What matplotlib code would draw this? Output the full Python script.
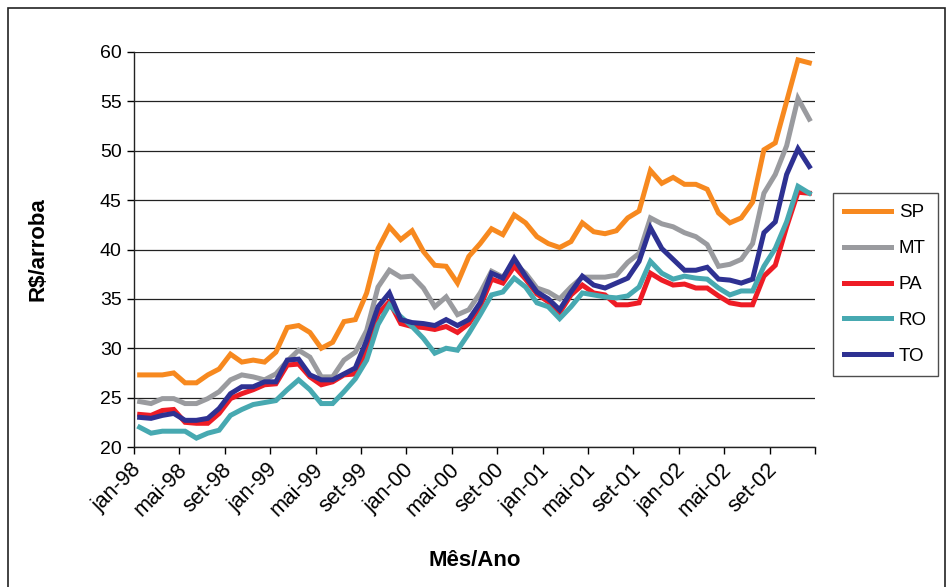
import matplotlib.pyplot as plt
from matplotlib.patches import Rectangle
import matplotlib.transforms as mtransforms
import numpy as np

plt.rcParams['font.family'] = ['Liberation Sans', 'DejaVu Sans']

# precos mensais jan-98 .. dez-02 (R$/arroba)
sp = [27.3, 27.3, 27.3, 27.5, 26.5, 26.5, 27.3, 27.9, 29.4, 28.6, 28.8, 28.6, 29.6, 32.1, 32.3, 31.6, 30.0, 30.6, 32.7, 32.9,
      35.6, 40.1, 42.3, 41.0, 41.9, 39.8, 38.4, 38.3, 36.6, 39.3, 40.6, 42.1, 41.5, 43.5, 42.7, 41.3, 40.6, 40.2, 40.8, 42.7,
      41.8, 41.6, 41.9, 43.2, 43.9, 48.0, 46.7, 47.3, 46.6, 46.6, 46.1, 43.7, 42.7, 43.2, 44.8, 50.1, 50.8, 55.0, 59.2, 58.9]
mt = [24.6, 24.4, 24.9, 24.9, 24.4, 24.4, 24.9, 25.6, 26.8, 27.3, 27.1, 26.8, 27.4, 28.7, 29.8, 29.1, 27.1, 27.1, 28.8, 29.6,
      31.8, 36.2, 37.9, 37.2, 37.3, 36.1, 34.2, 35.2, 33.4, 33.9, 35.6, 37.8, 37.2, 38.6, 37.6, 36.1, 35.7, 35.0, 36.2, 37.2,
      37.2, 37.2, 37.4, 38.7, 39.6, 43.2, 42.6, 42.3, 41.7, 41.3, 40.5, 38.3, 38.5, 39.0, 40.6, 45.7, 47.6, 50.5, 55.3, 53.2]
pa = [23.3, 23.2, 23.7, 23.8, 22.5, 22.4, 22.4, 23.4, 24.9, 25.4, 25.8, 26.3, 26.4, 28.3, 28.4, 27.1, 26.3, 26.6, 27.3, 27.4,
      29.8, 33.5, 34.7, 32.5, 32.2, 32.1, 31.9, 32.2, 31.6, 32.5, 34.2, 37.0, 36.6, 38.3, 37.0, 35.5, 34.7, 33.6, 35.4, 36.4,
      35.6, 35.4, 34.4, 34.4, 34.6, 37.6, 36.9, 36.4, 36.5, 36.1, 36.1, 35.3, 34.6, 34.4, 34.4, 37.3, 38.4, 42.3, 45.8, 45.7]
ro = [22.0, 21.4, 21.6, 21.6, 21.6, 20.9, 21.4, 21.7, 23.2, 23.8, 24.3, 24.5, 24.7, 25.8, 26.8, 25.8, 24.4, 24.4, 25.6, 26.9,
      28.8, 32.4, 34.4, 33.2, 32.2, 31.0, 29.5, 30.0, 29.8, 31.5, 33.4, 35.4, 35.7, 37.1, 36.2, 34.6, 34.2, 33.0, 34.2, 35.6,
      35.4, 35.2, 35.1, 35.3, 36.2, 38.8, 37.6, 37.0, 37.3, 37.1, 37.0, 36.1, 35.4, 35.8, 35.8, 38.3, 40.1, 42.8, 46.4, 45.7]
to = [23.0, 22.9, 23.2, 23.4, 22.7, 22.7, 22.9, 23.9, 25.4, 26.1, 26.1, 26.6, 26.6, 28.8, 28.9, 27.3, 26.8, 26.8, 27.4, 28.0,
      30.8, 34.2, 35.6, 32.9, 32.6, 32.5, 32.3, 32.9, 32.3, 32.9, 34.6, 37.6, 37.1, 39.1, 37.3, 35.7, 35.0, 33.9, 35.7, 37.3,
      36.4, 36.1, 36.6, 37.1, 38.8, 42.2, 40.1, 39.0, 37.9, 37.9, 38.2, 37.0, 36.9, 36.6, 37.0, 41.7, 42.8, 47.6, 50.2, 48.4]

labels = ['jan-98', 'mai-98', 'set-98', 'jan-99', 'mai-99', 'set-99', 'jan-00', 'mai-00',
          'set-00', 'jan-01', 'mai-01', 'set-01', 'jan-02', 'mai-02', 'set-02']

series = [('SP', sp, '#F7891F'), ('MT', mt, '#9A9B9F'), ('PA', pa, '#EE1C25'),
          ('RO', ro, '#47A9B1'), ('TO', to, '#2E3192')]

fig = plt.figure(figsize=(9.5, 5.87), dpi=100)
ax = fig.add_axes([134/950, 1-447/587, 681/950, 395/587])

x = np.arange(len(sp))
for name, vals, c in series:
    ax.plot(x, vals, color=c, lw=3.6, label=name, solid_joinstyle='miter')

ax.set_xlim(-0.5, len(sp) - 0.5)
ax.set_ylim(20, 60)
ax.set_yticks(np.arange(20, 61, 5))
ax.yaxis.grid(True, color='#222222', lw=0.9)
ax.set_axisbelow(True)

ax.set_xticks(np.arange(0, len(sp), 4))
ax.set_xticklabels(labels, rotation=45, ha='right', rotation_mode='anchor')
ax.set_xticks(np.arange(-0.5, len(sp), 4), minor=True)
ax.tick_params(axis='x', which='major', length=0, labelsize=15.5, pad=9)
ax.tick_params(axis='x', which='minor', length=5, width=1, direction='out')
ax.tick_params(axis='y', length=5, width=1, labelsize=14, pad=4)

# rotated labels sit a bit left of the category, like the original
shift = mtransforms.ScaledTranslation(-9/100, 0, fig.dpi_scale_trans)
for t in ax.get_xticklabels():
    t.set_transform(t.get_transform() + shift)

for s in ['top', 'right']:
    ax.spines[s].set_visible(False)
for s in ['left', 'bottom']:
    ax.spines[s].set_color('#222222')
    ax.spines[s].set_linewidth(1)

ax.set_ylabel(r'R\$/arroba', fontsize=16, fontweight='bold')
ax.yaxis.set_label_coords(-0.125, 0.5)
ax.set_xlabel('Mês/Ano', fontsize=16, fontweight='bold')
ax.xaxis.set_label_coords(0.5, -0.262)

leg = fig.legend(loc='upper left', bbox_to_anchor=(833/950, 1-193/587), fontsize=13.5,
                 frameon=True, fancybox=False, edgecolor='#222222', borderaxespad=0,
                 handlelength=2.5, handletextpad=0.4, labelspacing=1.0, borderpad=0.6)
leg.get_frame().set_linewidth(1)

fig.patches.append(Rectangle((8/950, -0.05), 937/950, 1.05 - 8/587, transform=fig.transFigure,
                             fill=False, edgecolor='#222222', lw=1.2))

plt.savefig('out.png', dpi=100)
